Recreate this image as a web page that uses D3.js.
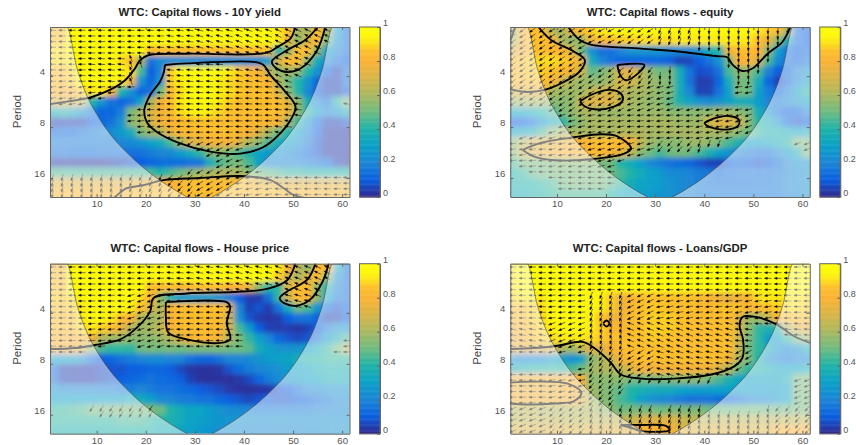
<!DOCTYPE html>
<html>
<head>
<meta charset="utf-8">
<script src="https://cdn.jsdelivr.net/npm/d3@7"></script>
<style>
  body { margin: 0; background: #fff; }
  text { font-family: "Liberation Sans", Arial, sans-serif; }
</style>
</head>
<body>
<div id="container"></div>
<script>
// coherence x100, columns t = 1,3..61, rows log2(period) = 1.1,1.3..4.3
const cohYield = [
[85,85,95,97,97,97,97,97,97,97,97,97,97,97,97,97,97,97,97,97,97,97,97,92,85,60,60,85,60,30,15],
[85,88,95,97,97,97,97,97,97,97,97,97,97,97,97,97,97,97,97,97,97,97,97,92,75,55,72,85,50,25,15],
[90,90,95,97,97,97,97,97,97,97,85,85,85,85,85,85,85,85,85,85,85,85,85,40,55,85,85,55,30,20,15],
[90,90,92,95,95,95,95,90,85,60,15,22,22,22,22,22,22,22,22,22,22,22,30,70,85,85,55,35,20,15,10],
[85,85,90,95,95,95,95,95,90,45,10,20,88,95,96,97,97,97,93,88,85,80,65,55,60,55,40,25,10,5,15],
[85,85,88,95,95,95,95,92,75,25,12,25,88,93,96,97,96,93,90,87,85,85,80,62,50,40,25,12,5,5,15],
[80,80,80,88,92,92,80,40,25,12,15,50,82,90,96,97,96,93,90,87,85,85,85,70,55,40,20,10,5,5,10],
[70,70,70,65,40,25,15,12,15,30,60,78,85,92,96,97,96,92,88,85,85,85,85,85,72,55,35,20,15,40,52],
[35,38,35,25,18,12,12,18,52,60,70,78,84,90,93,94,92,89,86,85,85,85,85,85,75,55,40,28,20,25,35],
[5,5,5,5,10,12,15,25,55,60,68,78,80,83,85,86,86,85,85,83,83,83,82,78,60,42,25,12,5,5,8],
[12,12,12,15,18,20,22,28,35,52,58,62,75,82,84,85,85,85,85,82,80,72,60,50,40,30,20,10,3,3,3],
[18,18,18,18,18,18,18,20,22,25,30,35,45,58,70,72,78,78,78,72,62,55,45,35,30,25,18,8,3,3,3],
[15,15,14,14,14,15,15,15,15,15,18,20,22,28,35,42,52,55,52,45,38,32,28,25,22,18,14,8,3,3,3],
[3,3,3,3,3,3,4,5,8,10,12,14,14,14,15,16,35,45,50,52,45,30,20,20,20,20,18,15,12,5,3],
[45,45,45,45,45,45,45,45,45,45,45,40,45,50,55,58,60,62,62,60,55,50,48,45,42,42,40,40,40,40,40],
[72,72,72,72,72,72,72,72,75,75,78,78,80,82,85,85,85,85,85,85,82,75,72,72,72,72,72,72,72,72,72],
[82,82,82,82,82,82,82,82,85,85,85,85,85,85,85,85,85,85,85,85,85,85,85,82,82,82,82,82,82,82,82]
];
const cohEquity = [
[60,80,85,85,62,60,75,85,88,92,95,97,97,97,97,97,97,97,95,95,95,95,95,95,95,92,88,85,60,15,10],
[60,80,85,85,82,60,55,60,75,85,85,88,88,90,90,90,90,92,92,92,92,92,92,92,92,85,75,55,35,15,10],
[70,80,85,85,82,80,70,50,25,15,15,20,25,25,25,25,22,22,20,25,35,40,75,85,85,80,55,30,15,10,12],
[85,85,88,90,90,88,85,75,35,20,15,12,12,12,12,12,10,5,6,10,15,25,50,80,82,70,45,22,15,12,15],
[85,85,88,88,85,82,78,68,48,52,58,72,72,65,55,50,52,35,15,7,8,15,45,55,55,45,20,10,12,20,25],
[85,82,85,85,78,68,60,58,56,56,60,70,70,62,58,55,52,35,15,4,4,12,35,52,50,35,12,5,12,20,30],
[70,72,72,75,60,58,58,58,65,68,70,65,60,60,58,55,52,35,20,5,5,15,30,52,50,30,18,12,18,30,40],
[58,60,60,60,55,55,56,68,72,72,72,65,60,58,56,55,48,38,32,25,22,25,30,35,35,28,20,18,22,25,30],
[32,32,35,40,45,52,56,60,60,58,58,58,58,58,58,58,55,55,55,55,55,58,58,55,52,35,25,15,10,12,18],
[10,10,15,25,35,40,50,56,60,60,60,60,60,60,60,60,60,58,58,58,68,72,72,68,55,40,35,25,12,8,10],
[30,32,35,45,55,60,60,60,60,60,60,62,62,62,60,60,60,60,60,60,60,60,58,55,50,42,38,38,35,30,35],
[55,62,70,72,74,76,78,80,84,85,85,82,80,65,58,55,55,55,58,58,55,52,45,38,30,30,32,35,40,52,52],
[55,68,72,75,78,80,80,82,82,82,78,75,65,55,50,45,50,52,50,45,38,30,25,20,18,15,15,20,28,35,52],
[45,50,52,52,52,55,55,55,55,52,50,40,35,30,22,18,15,14,12,8,5,5,10,12,10,8,10,14,20,25,25],
[40,42,48,50,52,52,52,52,52,52,50,45,40,35,30,28,22,22,20,18,16,14,15,16,16,16,16,18,20,22,25],
[38,38,40,42,45,50,52,52,52,52,48,42,36,32,30,28,25,22,20,18,16,15,15,15,15,16,16,18,20,22,24],
[35,36,38,40,42,45,45,45,45,45,40,35,32,30,28,26,25,22,20,18,17,17,17,17,17,17,17,18,20,22,24]
];
const cohHouse = [
[82,85,97,97,97,97,97,97,97,97,97,97,97,97,97,97,97,97,97,97,97,97,97,92,80,65,55,85,80,35,15],
[85,85,97,97,97,97,97,97,97,97,97,97,97,97,97,97,97,97,97,97,97,97,95,88,70,60,72,85,55,25,15],
[85,85,95,95,95,95,95,95,95,95,85,85,85,82,85,85,85,85,80,80,75,55,40,42,70,85,85,55,40,20,15],
[88,88,90,95,95,95,95,95,95,90,80,55,38,28,28,28,28,25,18,10,4,4,15,42,68,85,80,55,30,18,15],
[85,85,88,92,95,95,95,95,92,85,70,60,80,85,85,85,85,85,72,20,5,8,4,15,35,50,45,25,12,8,12],
[85,85,85,92,95,95,92,85,80,62,58,62,80,85,85,85,85,85,68,25,8,4,3,4,10,15,15,12,5,5,10],
[85,85,85,90,92,88,85,75,62,58,60,65,80,84,85,85,84,82,68,45,28,10,5,4,4,3,5,10,18,25,25],
[80,80,80,82,78,62,58,58,55,55,55,58,62,72,78,82,82,78,62,52,42,30,20,12,8,6,8,15,28,35,45],
[80,80,78,70,55,45,42,42,42,50,52,50,52,50,52,52,52,52,50,50,48,35,30,25,25,25,30,35,42,50,62],
[30,30,30,25,15,10,12,15,18,20,22,22,20,20,15,12,12,15,20,20,22,25,28,30,32,35,38,40,42,42,42],
[15,5,4,4,4,6,8,8,10,10,12,12,10,6,3,2,2,3,8,14,18,20,22,25,28,30,32,35,38,38,38],
[15,5,4,4,4,6,8,10,12,14,15,14,12,10,5,2,2,2,2,3,6,12,18,22,25,28,30,32,35,35,35],
[25,22,20,20,20,20,20,18,18,20,18,15,15,14,12,10,8,6,3,2,2,2,3,8,10,15,20,22,25,25,25],
[30,30,30,30,30,30,30,30,35,35,30,22,20,18,18,15,15,12,10,8,6,8,10,8,8,10,12,15,18,20,22],
[42,42,44,46,50,52,52,52,52,52,52,50,40,35,32,32,28,25,22,22,20,18,18,18,18,18,18,20,20,22,22],
[42,42,42,42,42,42,42,45,45,45,42,40,38,35,32,30,28,26,25,25,24,24,24,24,24,24,24,24,24,24,24],
[38,38,38,38,38,38,38,40,40,40,38,36,35,32,30,28,26,24,24,23,22,22,22,22,22,22,23,23,24,24,24]
];
const cohLoans = [
[92,98,98,98,98,98,98,98,98,98,98,98,98,98,98,98,98,98,98,98,98,98,98,98,98,98,98,98,98,98,98],
[92,97,97,97,97,97,97,97,97,97,97,97,97,97,97,97,97,97,97,97,97,97,97,97,97,97,97,97,97,97,97],
[92,96,96,96,96,96,96,96,95,95,95,95,95,95,95,95,95,95,95,95,95,95,95,95,95,95,95,95,95,95,95],
[90,92,92,92,95,96,96,96,96,93,88,76,80,84,86,86,86,86,86,84,80,76,74,76,80,90,92,92,92,92,90],
[85,85,88,90,95,96,96,96,96,92,88,76,82,86,87,87,86,85,85,84,82,86,86,86,80,84,86,88,90,90,88],
[85,85,88,90,95,96,96,95,93,86,76,78,84,86,88,88,88,86,85,85,85,85,85,72,58,58,65,82,85,85,85],
[78,82,85,90,93,96,96,95,92,88,82,80,84,86,88,88,88,86,86,85,85,85,85,70,55,42,38,40,62,72,75],
[75,80,84,87,90,92,92,92,90,87,85,85,86,86,87,87,86,85,85,85,85,85,85,68,52,42,28,30,42,52,58],
[75,72,72,72,70,62,58,65,72,72,80,85,85,85,85,85,85,85,85,85,85,85,85,65,50,42,35,25,22,25,35],
[25,22,22,22,28,30,25,30,55,60,68,78,82,85,85,85,85,85,85,85,85,85,78,62,52,40,25,20,18,20,22],
[35,38,40,40,42,40,45,50,58,62,62,65,72,78,78,78,78,78,78,78,78,70,62,50,42,38,35,32,30,32,35],
[78,78,78,78,78,78,78,78,55,55,55,55,52,50,52,52,52,55,55,55,50,45,38,32,30,30,30,32,35,50,52],
[76,76,76,76,76,78,78,72,58,55,52,48,40,38,35,35,35,32,30,28,30,30,30,30,30,28,28,28,32,52,52],
[78,78,78,78,78,78,78,72,60,55,52,45,40,30,25,22,20,18,15,15,15,14,14,16,20,22,24,28,32,50,52],
[62,65,65,62,62,62,62,62,62,58,55,50,52,52,52,50,52,52,52,52,50,50,50,50,50,50,50,50,50,52,52],
[65,65,65,65,65,65,65,65,65,65,65,65,65,70,72,72,72,68,65,65,65,65,65,65,65,65,65,65,65,65,65],
[72,72,72,72,72,72,72,72,72,72,72,72,72,80,80,80,80,72,72,72,72,72,72,72,72,72,72,80,80,80,80]
];

// arrow direction in degrees, coarse blocks of time (8) by period (6)
const phaseYield = [
[180,180,178,172,165,160,155,155],
[180,175,110,175,175,170,160,155],
[190,185,180,178,178,178,175,170],
[190,190,185,180,180,178,170,160],
[250,250,230,215,205,195,185,180],
[255,255,245,230,210,190,180,180]
];
const phaseEquity = [
[215,210,205,215,250,265,265,265],
[215,215,215,235,265,265,265,250],
[215,215,210,200,195,190,190,200],
[200,195,190,185,185,190,200,200],
[185,190,195,195,230,250,250,200],
[180,180,180,180,180,180,180,180]
];
const phaseHouse = [
[180,180,180,175,170,165,160,155],
[180,180,195,180,180,175,165,160],
[180,185,195,180,180,180,180,180],
[180,180,180,180,180,180,180,180],
[240,240,240,240,240,240,240,240],
[240,240,240,240,240,240,240,240]
];
const phaseLoans = [
[180,180,180,180,180,180,180,180],
[180,185,250,205,190,185,190,180],
[170,200,255,160,160,165,175,175],
[180,190,240,210,165,170,210,180],
[180,190,230,235,240,245,250,200],
[200,225,250,250,250,255,255,230]
];

// significance contours as [t, log2(period)]
const contoursYield = [
[[0.5,2.55],[3.9,2.5],[8.6,2.42],[12.7,2.27],[15.8,2.08],[17.8,1.85],[18.8,1.69],[20.5,1.59],[28.4,1.56],[44.7,1.54],[47.1,1.41],[49.5,1.26],[50.5,1.02]],
[[23.9,1.78],[28.4,1.75],[42,1.72],[44,1.78],[45.4,1.98],[48.1,2.27],[50.5,2.6],[49.5,2.86],[46.7,3.19],[44,3.39],[39.3,3.52],[33.1,3.48],[27,3.32],[22.2,3.09],[20.2,2.9],[19.7,2.67],[20.9,2.37],[22.9,2.11],[23.7,1.92],[23.9,1.78]],
[[55.2,1.02],[52.5,1.29],[48.8,1.49],[45.7,1.71],[46.7,1.85],[48.8,1.92],[51.5,1.85],[54.9,1.49],[56.6,1.02]],
[[13.4,4.4],[15.4,4.24],[16.1,4.2],[19.5,4.14],[23.6,4.04],[31.1,4],[39.3,3.96],[45.4,4.04],[48.1,4.2],[50.1,4.33],[52.9,4.4]]
];
const contoursEquity = [
[[1.6,1.02],[0.5,1.3]],
[[6.1,1.02],[8.8,1.29],[13.5,1.52],[15.7,1.69],[14.5,1.92],[11.5,2.11],[7.8,2.26],[4,2.31],[0.5,2.26]],
[[12.2,1.02],[14.5,1.28],[16.9,1.38],[27.1,1.46],[35.2,1.52],[42.7,1.61],[44.7,1.63],[45.8,1.78],[47.8,1.9],[49.8,1.85],[52.9,1.56],[55.9,1.33],[57.6,1.02]],
[[22.3,1.78],[27.8,1.78],[26.1,1.98],[24,2.08],[22.9,1.98],[22.3,1.78]],
[[14.7,2.5],[16.9,2.37],[20.7,2.27],[23,2.34],[23.4,2.47],[21.6,2.6],[17.6,2.65],[15.6,2.59],[14.7,2.5]],
[[40,2.92],[42,2.83],[44.7,2.78],[47.1,2.86],[46.8,2.98],[44.1,3.05],[40.7,2.98],[40,2.92]],
[[3,3.45],[6.7,3.31],[13.5,3.2],[19,3.14],[22.3,3.18],[25.1,3.42],[23.7,3.52],[16.9,3.63],[9.5,3.65],[5.4,3.58],[3,3.45]]
];
const contoursHouse = [
[[0.5,2.71],[5.8,2.69],[9.66,2.63],[14.8,2.52],[18.2,2.29],[20.9,1.97],[21.6,1.71],[28.4,1.62],[38,1.59],[44.7,1.53],[48.8,1.36],[50.5,1.02]],
[[24.1,1.79],[36.5,1.79],[37.2,1.87],[36.5,2.2],[37.2,2.52],[35.2,2.59],[28.4,2.52],[24.6,2.39],[24.1,2.07],[24.1,1.79]],
[[54.6,1.02],[52.9,1.35],[48.8,1.58],[47.3,1.71],[48.4,1.82],[50.8,1.86],[53.5,1.74],[55.9,1.41],[57.3,1.02]]
];
const contoursLoans = [
[[0.5,2.71],[5.4,2.69],[9.8,2.65],[15.2,2.57],[17.6,2.69],[21,2.98],[23,3.21],[27.1,3.29],[33.9,3.29],[41.4,3.21],[46.1,3.05],[47.8,2.88],[47.9,2.52],[47.2,2.26],[47.8,2.08],[50.5,2.08],[54.6,2.22],[58.3,2.46],[61.5,2.59]],
[[19.4,2.21],[20.1,2.15],[20.7,2.21],[20.1,2.27],[19.4,2.21]],
[[0.5,3.37],[5.4,3.35],[12.2,3.39],[15,3.57],[13.5,3.73],[9.5,3.78],[4,3.8],[0.5,3.78]],
[[23,4.2],[27.1,4.2],[32.2,4.22],[32.9,4.3],[27.1,4.32],[25,4.25],[23,4.2]]
];

const titles = ['WTC: Capital flows - 10Y yield', 'WTC: Capital flows - equity',
  'WTC: Capital flows - House price', 'WTC: Capital flows - Loans/GDP'];
const cohData = [cohYield, cohEquity, cohHouse, cohLoans];
const phaseData = [phaseYield, phaseEquity, phaseHouse, phaseLoans];
const contourData = [contoursYield, contoursEquity, contoursHouse, contoursLoans];

const timeTicks = [10, 20, 30, 40, 50, 60];
const periodTicks = [4, 8, 16];
const barTicks = [0, 0.2, 0.4, 0.6, 0.8, 1];

// cone of influence
const coiTime = [0.5, 3.9, 6, 8, 10, 13, 16, 19, 22, 25, 28.7, 31, 33.3, 37, 40, 43, 46, 49, 52, 54, 56, 58.1, 61.5];
const coiPeriod = [2.05, 2.05, 3.6, 5.2, 6.7, 9, 11.2, 13.5, 15.8, 18.1, 20.9, 22.6, 20.9, 18.1, 15.8, 13.5, 11.2, 9, 6.7, 5.2, 3.6, 2.05, 2.05];

const colorValues = [0, 0.1, 0.2, 0.3, 0.4, 0.5, 0.6, 0.7, 0.8, 0.86, 0.91, 0.95, 1];
const colorStops = ['#31278c', '#0a5fe0', '#1b85d6', '#0aa0c8', '#1fb3a8', '#6dbb80', '#a9b860', '#d8b548', '#fbb234', '#fdc02c', '#fde418', '#fdf80a', '#fbfb08'];

const color = d3.scaleLinear().domain(colorValues).range(colorStops);
const cols = d3.range(1, 62, 2);
const rows = d3.range(17).map(i => 1.1 + i * 0.2);

const lefts = [50, 510.3, 50, 510.3];
const tops = [27, 27, 263.7, 263.7];
const W = 299.5, H = 170;

const svg = d3.select('#container').append('svg')
  .attr('width', 856).attr('height', 445);

const defs = svg.append('defs');
defs.append('filter').attr('id', 'soft')
  .append('feGaussianBlur').attr('stdDeviation', 2.4);

function cohAt(data, t, l) {
  const cx = Math.max(0, Math.min(29.999, (t - 1) / 2));
  const cy = Math.max(0, Math.min(15.999, (l - 1.1) / 0.2));
  const i = Math.floor(cx), j = Math.floor(cy);
  const a = cx - i, b = cy - j;
  return (data[j][i] * (1 - a) + data[j][i + 1] * a) * (1 - b)
       + (data[j + 1][i] * (1 - a) + data[j + 1][i + 1] * a) * b;
}

titles.forEach((title, p) => {
  const g = svg.append('g').attr('transform', `translate(${lefts[p]},${tops[p]})`);
  const x = d3.scaleLinear().domain([0.5, 61.5]).range([0, W]);
  const y = d3.scaleLog().base(2).domain([2.05, 20.7]).range([0, H]);
  const yl = l => y(Math.pow(2, l));

  defs.append('clipPath').attr('id', 'clip' + p)
    .append('rect').attr('width', W).attr('height', H);

  const plot = g.append('g').attr('clip-path', `url(#clip${p})`);

  // heat cells, edge cells run past the frame so the blur keeps its colour there
  const cells = [];
  cohData[p].forEach((row, j) => row.forEach((v, i) => cells.push({ i, j, v })));
  plot.append('g').attr('filter', 'url(#soft)')
    .selectAll('rect').data(cells).join('rect')
    .attr('x', d => d.i === 0 ? -20 : x(cols[d.i] - 1))
    .attr('width', d => (d.i === 0 || d.i === 30 ? x(cols[d.i] + 1) - x(cols[d.i] - 1) + 20 : x(cols[d.i] + 1) - x(cols[d.i] - 1)) + 0.5)
    .attr('y', d => d.j === 0 ? -20 : yl(rows[d.j] - 0.1))
    .attr('height', d => (d.j === 0 || d.j === 16 ? yl(rows[d.j] + 0.1) - yl(rows[d.j] - 0.1) + 20 : yl(rows[d.j] + 0.1) - yl(rows[d.j] - 0.1)) + 0.5)
    .attr('fill', d => color(d.v / 100));

  // phase arrows where coherence is about 0.5 or more
  const arrows = [];
  cols.forEach(t => {
    for (let l = 1.1; l < 4.38; l += 1 / 9) {
      if (cohAt(cohData[p], t, l) < 47) continue;
      const a = Math.min(7, Math.floor((t - 0.5) / 61 * 8));
      const b = Math.min(5, Math.floor((l - 1.04) / 3.33 * 6));
      arrows.push({ t, l, ang: phaseData[p][b][a] });
    }
  });
  plot.append('g').selectAll('path').data(arrows).join('path')
    .attr('transform', d => `translate(${x(d.t)},${yl(d.l)}) rotate(${-d.ang})`)
    .attr('d', 'M-3.6,0L1,0M3.6,0L0.8,-1L0.8,1Z')
    .attr('stroke', '#000').attr('stroke-width', 0.5).attr('fill', '#000');

  // contours, grey outside the cone comes from the white veil on top
  const line = d3.line().x(d => x(d[0])).y(d => yl(d[1])).curve(d3.curveCatmullRom.alpha(0.5));
  plot.append('g').selectAll('path').data(contourData[p]).join('path')
    .attr('d', line).attr('fill', 'none')
    .attr('stroke', '#000').attr('stroke-width', 1.9).attr('stroke-linejoin', 'round');

  // white veil outside the cone of influence
  const coi = coiTime.map((t, i) => [t, coiPeriod[i]]);
  plot.append('path').datum(coi)
    .attr('d', d3.area().x(d => x(d[0])).y0(H).y1(d => y(d[1])).curve(d3.curveMonotoneX))
    .attr('fill', '#fff').attr('fill-opacity', 0.5);
  plot.append('path').datum(coi)
    .attr('d', d3.line().x(d => x(d[0])).y(d => y(d[1])).curve(d3.curveMonotoneX))
    .attr('fill', 'none').attr('stroke', '#444').attr('stroke-width', 0.6);

  // axes with a box, ticks inside
  const styleAxis = a => {
    a.selectAll('path').attr('stroke', '#666');
    a.selectAll('line').attr('stroke', '#666');
    a.selectAll('text').attr('fill', '#555').style('font-size', '9.6px').style('font-family', '"Liberation Sans"');
  };
  g.append('g').attr('transform', `translate(0,${H})`)
    .call(d3.axisBottom(x).tickValues(timeTicks).tickSizeInner(-3).tickSizeOuter(0).tickPadding(3))
    .call(styleAxis);
  g.append('g')
    .call(d3.axisTop(x).tickValues(timeTicks).tickSizeInner(-3).tickSizeOuter(0).tickFormat(''))
    .call(styleAxis);
  g.append('g')
    .call(d3.axisLeft(y).tickValues(periodTicks).tickFormat(d => d).tickSizeInner(-3).tickSizeOuter(0).tickPadding(5))
    .call(styleAxis)
    .selectAll('text').attr('dy', '-0.15em');
  g.append('g').attr('transform', `translate(${W},0)`)
    .call(d3.axisRight(y).tickValues(periodTicks).tickFormat('').tickSizeInner(-3).tickSizeOuter(0))
    .call(styleAxis);

  g.append('text').attr('x', W / 2).attr('y', -15.5).attr('dy', '0.35em')
    .attr('text-anchor', 'middle').attr('fill', '#222')
    .style('font-size', '11.4px').style('font-weight', 'bold').text(title);
  g.append('text').attr('transform', `translate(-33,${H / 2 - 0.5}) rotate(-90)`)
    .attr('text-anchor', 'middle').attr('dy', '0.35em').attr('fill', '#444')
    .style('font-size', '11.5px').text('Period');

  // colour bar
  const cb = g.append('g').attr('transform', `translate(${W + 10},0)`);
  const cy = d3.scaleLinear().domain([0, 1]).range([H, 0]);
  const steps = d3.range(0, 1, 0.005);
  cb.selectAll('rect').data(steps).join('rect')
    .attr('width', 20.5).attr('y', d => cy(d + 0.005)).attr('height', d => cy(d) - cy(d + 0.005) + 0.5)
    .attr('fill', d => color(d));
  const barAxis = cb.append('g').attr('transform', 'translate(20.5,0)')
    .call(d3.axisRight(cy).tickValues(barTicks).tickFormat(d => d).tickSizeInner(-3).tickSizeOuter(0).tickPadding(3))
    .call(styleAxis);
  barAxis.selectAll('text').attr('dy', '-0.15em').style('font-size', '9px');
  cb.append('rect').attr('width', 20.5).attr('height', H)
    .attr('fill', 'none').attr('stroke', '#666');
});
</script>
</body>
</html>
